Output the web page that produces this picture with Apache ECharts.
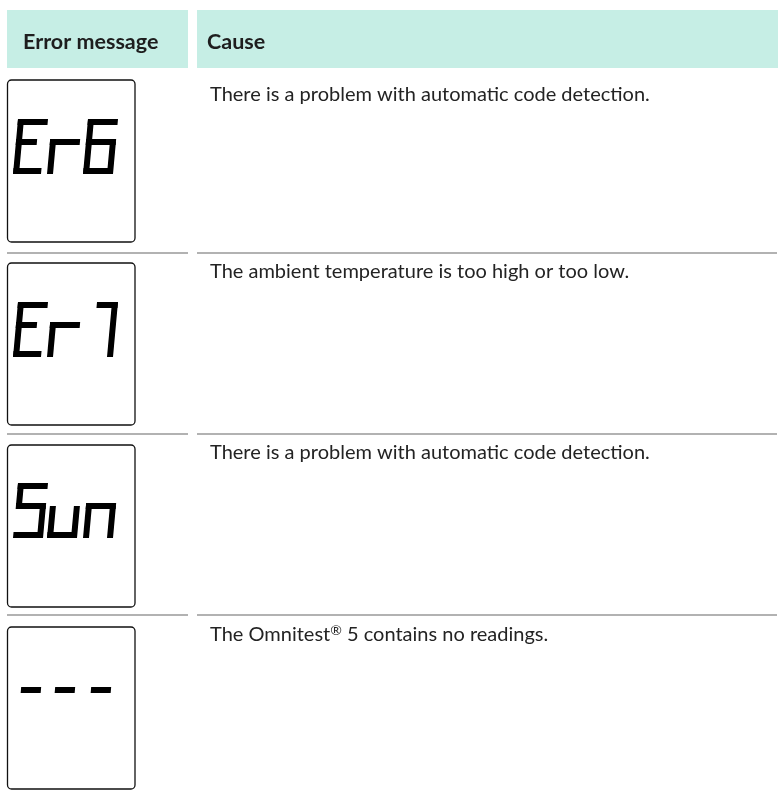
<!DOCTYPE html>
<html><head><meta charset="utf-8">
<script src="https://cdn.jsdelivr.net/npm/echarts@6/dist/echarts.min.js"></script>
<style>html,body{margin:0;padding:0;background:#fff}#main{width:778px;height:793px}</style>
</head><body><div id="main"></div>
<script>
// ---- data ----
const headers = ['Error message', 'Cause'];
const codes = ['Er6', 'Er7', 'Sun', '---'];
const causes = [
  'There is a problem with automatic code detection.',
  'The ambient temperature is too high or too low.',
  'There is a problem with automatic code detection.',
  'The Omnitest® 5 contains no readings.'
];
// seven-segment patterns for each displayed glyph
const glyphSegments = { 'E': 'adefg', 'r': 'eg', '6': 'acdefg', '7': 'abc', 'S': 'acdfg', 'u': 'cde', 'n': 'ceg', '-': 'g' };

// ---- layout ----
const rowTop = [68, 253, 434, 615];
const boxTop = [80, 263, 445, 627];
const textMid = [94.5, 272, 453, 634.5];
const digitTopOff = [39, 39, 38, 40];
const cellX = [13, 47, 83];
const W = 30, H = 55, T = 6, SL = 5, GC = 23;
const FONT = 'Lato';

const g = [];
// header
g.push({ type: 'rect', shape: { x: 7, y: 10, width: 181, height: 58 }, style: { fill: '#c6eee5' } });
g.push({ type: 'rect', shape: { x: 197, y: 10, width: 581, height: 58 }, style: { fill: '#c6eee5' } });
g.push({ type: 'text', style: { text: headers[0], x: 23, y: 42, fill: '#1e1e1e', font: 'bold 21.5px ' + FONT, verticalAlign: 'middle' } });
g.push({ type: 'text', style: { text: headers[1], x: 207, y: 42, fill: '#1e1e1e', font: 'bold 21.5px ' + FONT, verticalAlign: 'middle' } });

function segPoly(x0, y0, seg, ch) {
  const t = T, w = W, h = H;
  let r;
  switch (seg) {
    case 'a': r = [ch === '7' ? 9 : 0, 0, w, t]; break;
    case 'b': r = [w - t, 0, w, GC]; break;
    case 'c': r = [w - t, GC, w, h]; break;
    case 'd': r = [0, h - t, w - 2, h]; break;
    case 'e': r = [0, GC - (ch === 'r' || ch === 'n' ? t / 2 : 0), t, h]; break;
    case 'f': r = [0, 0, t, GC]; break;
    case 'g':
      if (ch === '-') r = [5, GC - t / 2, w - 5, GC + t / 2];
      else if (ch === 'E') r = [0, GC - t / 2, w - 9, GC + t / 2];
      else r = [0, GC - t / 2, w, GC + t / 2];
      break;
  }
  const pts = [[r[0], r[1]], [r[2], r[1]], [r[2], r[3]], [r[0], r[3]]];
  return pts.map(p => [x0 + p[0] + SL * (1 - p[1] / h), y0 + p[1]]);
}

function richText(s) {
  return s.split('®').map(p => '{t|' + p + '}').join('{sup|®}');
}

codes.forEach((code, i) => {
  if (i > 0) {
    g.push({ type: 'line', shape: { x1: 7, y1: rowTop[i], x2: 188, y2: rowTop[i] }, style: { stroke: '#b2b2b2', lineWidth: 2 } });
    g.push({ type: 'line', shape: { x1: 197, y1: rowTop[i], x2: 777, y2: rowTop[i] }, style: { stroke: '#b2b2b2', lineWidth: 2 } });
  }
  g.push({ type: 'rect', shape: { x: 7.5, y: boxTop[i], width: 127.5, height: 162, r: 4 }, style: { fill: '#fff', stroke: '#111', lineWidth: 1.3 } });
  const y0 = boxTop[i] + digitTopOff[i];
  code.split('').forEach((ch, k) => {
    (glyphSegments[ch] || '').split('').forEach(s => {
      g.push({ type: 'polygon', shape: { points: segPoly(cellX[k], y0, s, ch) }, style: { fill: '#000' } });
    });
  });
  g.push({
    type: 'text',
    style: {
      text: richText(causes[i]),
      x: 210, y: textMid[i], verticalAlign: 'middle',
      rich: {
        t: { font: '20px ' + FONT, fill: '#232323' },
        sup: { font: '14px ' + FONT, fill: '#232323', padding: [0, 0, 9, 0] }
      }
    }
  });
});

const chart = echarts.init(document.getElementById('main'), null, { renderer: 'canvas' });
chart.setOption({ animation: false, graphic: { elements: g } });
</script></body></html>
